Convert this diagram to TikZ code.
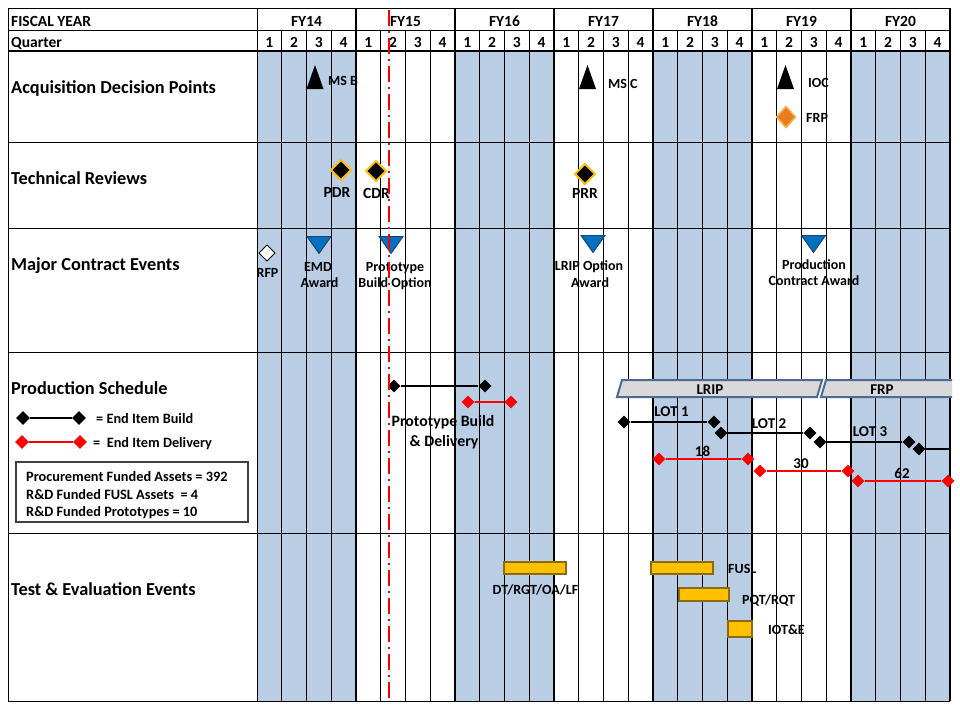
\documentclass[tikz,border=0pt]{standalone}
\usepackage{fontspec}
\setmainfont{Carlito}
\usetikzlibrary{shapes.geometric}
\definecolor{shadeblue}{HTML}{B9CDE5}
\definecolor{triblue}{HTML}{0070C0}
\definecolor{triedge}{HTML}{1F3F66}
\definecolor{gold}{HTML}{FFC000}
\definecolor{frporange}{HTML}{EA7E1E}
\definecolor{frpglow}{HTML}{F6B04A}
\definecolor{phasefill}{HTML}{D9D9D9}
\definecolor{phaseborder}{HTML}{4C6A92}
\definecolor{barfill}{HTML}{FFC000}
\definecolor{barborder}{HTML}{8C6A10}
\newcommand\myfs[1]{\fontsize{#1pt}{#1pt}\selectfont\bfseries}
\tikzset{
 gridthin/.style={line width=1pt, black},
 gridthick/.style={line width=2pt, black},
 rowlab/.style={font=\myfs{18.3}, anchor=base west, inner sep=0},
 hdr/.style={font=\myfs{15.5}, anchor=base, inner sep=0},
 hdrl/.style={font=\myfs{15.5}, anchor=base west, inner sep=0},
 evlab/.style={font=\myfs{14}, anchor=base, inner sep=0},
 evlabl/.style={font=\myfs{14}, anchor=base west, inner sep=0},
 revlab/.style={font=\myfs{15.5}, anchor=base, inner sep=0},
 prodlab/.style={font=\myfs{15}, anchor=base, inner sep=0},
 boxlab/.style={font=\myfs{14.3}, anchor=base west, inner sep=0},
 bdia/.style={diamond, fill=black, inner sep=0, minimum size=13pt},
 rdia/.style={diamond, fill=red, inner sep=0, minimum size=13pt},
 bline/.style={line width=2pt, black},
 rline/.style={line width=2pt, red},
 phase/.style={fill=phasefill, draw=phaseborder, line width=2pt},
 tebar/.style={fill=barfill, draw=barborder, line width=1.2pt},
 msup/.pic={\fill[black] (-8.5,12) -- (8.5,12) -- (0,-12) -- cycle;},
 ctdown/.pic={\filldraw[fill=triblue, draw=triedge, line width=0.9pt] (-12,-8.5) -- (12,-8.5) -- (0,8.5) -- cycle;},
 revdia/.pic={\filldraw[fill=black, draw=gold, line width=2pt] (0,-10) -- (10,0) -- (0,10) -- (-10,0) -- cycle;},
 frpdia/.pic={\filldraw[fill=frporange, draw=frpglow, line width=1.5pt] (0,-10.5) -- (9.5,0) -- (0,10.5) -- (-9.5,0) -- cycle;},
 rfpdia/.pic={\filldraw[fill=white, draw=black, line width=1pt] (0,-8) -- (8,0) -- (0,8) -- (-8,0) -- cycle;}
}
\begin{document}
\begin{tikzpicture}[x=1pt,y=-1pt]
\useasboundingbox (0,0) rectangle (960,720);
\fill[white] (0,0) rectangle (960,720);
% shading of alternate fiscal years
\foreach \i in {0,2,4,6} {\fill[shadeblue] ({257+99*\i},51) rectangle ({356+99*\i},701);}
% horizontal rules
\foreach \y in {8,30,142,228,352,533,701} {\draw[gridthin] (8,\y) -- (950,\y);}
\draw[gridthick] (8,51) -- (950,51);
% vertical rules
\draw[gridthin] (8,8) -- (8,701);
\draw[gridthin] (257,8) -- (257,701);
\foreach \k in {1,...,27} {
  \pgfmathtruncatemacro\m{mod(\k,4)}
  \ifnum\m=0
    \draw[gridthick] ({257+24.75*\k},8) -- ({257+24.75*\k},701);
  \else
    \draw[gridthin] ({257+24.75*\k},30) -- ({257+24.75*\k},701);
  \fi
}
\draw[gridthick] (950,8) -- (950,701);
% header
\node[hdrl] (fyhead) at (11,26) {FISCAL YEAR};
\node[hdrl] (qhead) at (11,47) {Quarter};
\foreach \f [count=\i from 0] in {FY14,FY15,FY16,FY17,FY18,FY19,FY20} {\node[hdr] (fy\i) at ({306.5+99*\i},26) {\f};}
\foreach \k in {0,...,27} {\pgfmathtruncatemacro\q{mod(\k,4)+1}\node[hdr] (q\k) at ({257+24.75*(\k+0.5)},47) {\q};}
% row labels
\node[rowlab] (r1) at (11,93) {Acquisition Decision Points};
\node[rowlab] (r2) at (11,184) {Technical Reviews};
\node[rowlab] (r3) at (11,270) {Major Contract Events};
\node[rowlab] (r4) at (11,394) {Production Schedule};
\node[rowlab] (r5) at (11,595) {Test \& Evaluation Events};
% acquisition decision points
\pic at (315,77) {msup};
\node[evlabl] (msb) at (328,85) {MS B};
\pic at (587.5,77) {msup};
\node[evlabl] (msc) at (608,88) {MS C};
\pic at (785.5,77) {msup};
\node[evlabl] (ioc) at (808,87) {IOC};
\pic at (786,117) {frpdia};
\node[evlabl] (frpl) at (806,122) {FRP};
% technical reviews
\pic at (341,170) {revdia};
\node[revlab] (pdr) at (337,197) {PDR};
\pic at (376,171) {revdia};
\node[revlab] (cdr) at (376.5,198) {CDR};
\pic at (585,174) {revdia};
\node[revlab] (prr) at (585,198) {PRR};
% major contract events
\pic at (267,253) {rfpdia};
\node[evlab] (rfp) at (267.5,277) {RFP};
\pic at (319,245) {ctdown};
\node[evlab] (emd1) at (318,271) {EMD};
\node[evlab] (emd2) at (319.5,287) {Award};
\pic at (391,245) {ctdown};
\node[evlab] (pbo1) at (395,271) {Prototype};
\node[evlab] (pbo2) at (395,287) {Build Option};
\pic at (593,244) {ctdown};
\node[evlab] (lo1) at (589,270) {LRIP Option};
\node[evlab] (lo2) at (590,287) {Award};
\pic at (813.5,244) {ctdown};
\node[evlab] (pc1) at (814,269) {Production};
\node[evlab] (pc2) at (814,285) {Contract Award};
% production schedule legend
\node[bdia, minimum size=14pt] (lb1) at (23,418) {};
\node[bdia, minimum size=14pt] (lb2) at (79,418) {};
\draw[bline] (lb1) -- (lb2);
\node[boxlab] (lbt) at (96,423) {= End Item Build};
\node[rdia, minimum size=14pt] (lr1) at (22,442) {};
\node[rdia, minimum size=14pt] (lr2) at (80,442) {};
\draw[rline] (lr1) -- (lr2);
\node[boxlab] (lrt) at (93,447) {=\ \ End Item Delivery};
\draw[line width=1.2pt, black!75] (16,462) rectangle (248,522);
\node[boxlab] (bx1) at (26,481) {Procurement Funded Assets = 392};
\node[boxlab] (bx2) at (26,499) {R\&D Funded FUSL Assets\ \ = 4};
\node[boxlab] (bx3) at (26,516) {R\&D Funded Prototypes = 10};
% phases
\draw[phase] (622,380) -- (822,380) -- (817,397) -- (617,397) -- cycle;
\node[prodlab] (lrip) at (710,394) {LRIP};
\begin{scope}
\clip (815,370) rectangle (952,410);
\draw[phase] (826,380) -- (965,380) -- (960,397) -- (821,397) -- cycle;
\end{scope}
\node[prodlab] (frp) at (882,394) {FRP};
% prototype build
\node[bdia] (pb1) at (394,386) {};
\node[bdia] (pb2) at (485,386) {};
\draw[bline] (pb1) -- (pb2);
\node[rdia] (pd1) at (468,402) {};
\node[rdia] (pd2) at (511,402) {};
\draw[rline] (pd1) -- (pd2);
\node[font=\myfs{15.8}, anchor=base, inner sep=0] (pbl1) at (443,426) {Prototype Build};
\node[font=\myfs{15.8}, anchor=base, inner sep=0] (pbl2) at (444,446) {\& Delivery};
% lots
\node[bdia] (l1a) at (624,422) {};
\node[bdia] (l1b) at (714,422) {};
\draw[bline] (l1a) -- (l1b);
\node[bdia] (l2a) at (721,433) {};
\node[bdia] (l2b) at (810,433) {};
\draw[bline] (l2a) -- (l2b);
\node[bdia] (l3a) at (820,442) {};
\node[bdia] (l3b) at (909,442) {};
\draw[bline] (l3a) -- (l3b);
\node[bdia] (l4a) at (919,449) {};
\coordinate (l4end) at (950,449);
\draw[bline] (l4a) -- (l4end);
\node[prodlab] (lot1) at (671.5,416) {LOT 1};
\node[prodlab] (lot2) at (769,428) {LOT 2};
\node[prodlab] (lot3) at (870,436) {LOT 3};
\node[rdia] (d1a) at (659,459) {};
\node[rdia] (d1b) at (748,459) {};
\draw[rline] (d1a) -- (d1b);
\node[rdia] (d2a) at (760,471) {};
\node[rdia] (d2b) at (848,471) {};
\draw[rline] (d2a) -- (d2b);
\node[rdia] (d3a) at (858,481) {};
\node[rdia] (d3b) at (948,481) {};
\draw[rline] (d3a) -- (d3b);
\node[prodlab] (n18) at (702.5,456) {18};
\node[prodlab] (n30) at (801,468) {30};
\node[prodlab] (n62) at (902,478) {62};
% test and evaluation
\draw[tebar] (504,562) rectangle (566,574);
\node[evlab] (dt) at (535.5,594) {DT/RGT/OA/LF};
\draw[tebar] (651,562) rectangle (713,574);
\node[evlabl] (fusl) at (728,573) {FUSL};
\draw[tebar] (679,588) rectangle (729,601);
\node[evlabl] (pqt) at (742,604) {PQT/RQT};
\draw[tebar] (728,621) rectangle (752,637);
\node[evlabl] (iote) at (768,634) {IOT\&E};
% status line
\draw[red, line width=2pt, dash pattern=on 16pt off 5pt on 2pt off 5pt] (389,10) -- (389,701);
\end{tikzpicture}
\end{document}
